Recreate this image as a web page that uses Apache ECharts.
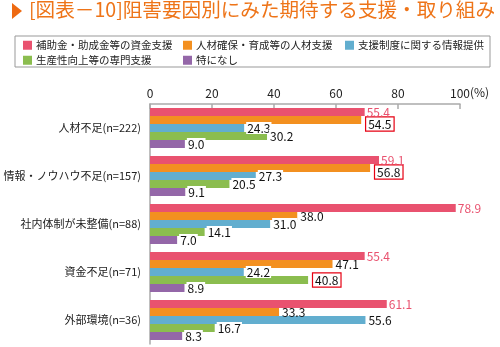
<!DOCTYPE html>
<html>
<head>
<meta charset="utf-8">
<script src="https://cdn.jsdelivr.net/npm/echarts@6/dist/echarts.min.js"></script>
<style>
  html, body { margin: 0; padding: 0; background: #fff; }
  #chart { width: 500px; height: 347px; }
</style>
</head>
<body>
<div id="chart"></div>
<script>
// Categories (obstacle type with sample size)
var categories = ['人材不足(n=222)', '情報・ノウハウ不足(n=157)', '社内体制が未整備(n=88)', '資金不足(n=71)', '外部環境(n=36)'];

// Series names
var seriesNames = ['補助金・助成金等の資金支援', '人材確保・育成等の人材支援', '支援制度に関する情報提供', '生産性向上等の専門支援', '特になし'];

// Series values (%)
var subsidy  = [55.4, 59.1, 78.9, 55.4, 61.1];
var talent   = [54.5, 56.8, 38.0, 47.1, 33.3];
var info     = [24.3, 27.3, 31.0, 24.2, 55.6];
var expert   = [30.2, 20.5, 14.1, 40.8, 16.7];
var none     = [9.0, 9.1, 7.0, 8.9, 8.3];

// Axis tick labels
var tickValues = [0, 20, 40, 60, 80, 100];

// Highlighted values: [series index, category index]
var highlighted = [[1, 0], [1, 1], [3, 3]];

var colors = ['#E9526F', '#F39020', '#62AECF', '#8BBD4F', '#9467A8'];
var seriesData = [subsidy, talent, info, expert, none];
var FONT = '"Noto Sans CJK JP", "Noto Sans", sans-serif';

function isHighlighted(si, ci) {
  return highlighted.some(function (h) { return h[0] === si && h[1] === ci; });
}

var series = seriesData.map(function (vals, si) {
  return {
    name: seriesNames[si],
    type: 'bar',
    xAxisIndex: 1,
    yAxisIndex: 0,
    barWidth: 8,
    barGap: '0%',
    itemStyle: { color: colors[si] },
    data: vals.map(function (v, ci) {
      var item = { value: v };
      if (isHighlighted(si, ci)) {
        item.label = {
          borderColor: '#E60012',
          borderWidth: 1.2,
          padding: [1, 2, 0, 2],
          backgroundColor: '#fff',
          // boxed orange values sit a little lower, clear of the value above
          offset: si === 1 ? [3, 4] : [3, 0]
        };
      }
      return item;
    }),
    label: {
      show: true,
      position: 'right',
      distance: 2,
      fontFamily: FONT,
      fontSize: 12,
      color: si === 0 ? colors[0] : '#111',
      backgroundColor: si <= 1 ? 'transparent' : '#fff',
      padding: si === 0 ? 0 : [0, 1, 0, 1],
      formatter: function (p) { return p.value.toFixed(1); }
    },
    z: si === 0 ? 5 : 2
  };
});

// One legend per item so that entries line up in columns
var legendPos = [[23, 40], [183, 40], [345, 40], [23, 55], [183, 55]];
var legends = seriesNames.map(function (n, i) {
  return {
    data: [n],
    left: legendPos[i][0],
    top: legendPos[i][1],
    itemWidth: 9,
    itemHeight: 9,
    itemGap: 0,
    padding: 0,
    selectedMode: false,
    icon: 'rect',
    textStyle: { fontFamily: FONT, fontSize: 10.5, color: '#222', padding: [0, 0, 0, -1] }
  };
});

var chart = echarts.init(document.getElementById('chart'), null, { renderer: 'canvas' });
chart.setOption({
  animation: false,
  backgroundColor: '#fff',
  color: colors,
  legend: legends,
  grid: { left: 150, top: 104, width: 310, height: 240, containLabel: false },
  xAxis: [
    {
      type: 'value',
      position: 'top',
      min: 0,
      max: 100,
      interval: 20,
      axisLine: { show: true, lineStyle: { color: '#aaa', width: 1.5 } },
      axisTick: { show: true, inside: true, length: 5, lineStyle: { color: '#aaa', width: 1.5 } },
      axisLabel: {
        margin: 5,
        fontFamily: FONT,
        fontSize: 12,
        color: '#222',
        formatter: function (v) { return tickValues.indexOf(v) >= 0 ? String(v) : ''; }
      },
      splitLine: { show: false }
    },
    {
      type: 'value',
      position: 'top',
      min: 0,
      max: 80,
      show: false
    }
  ],
  yAxis: {
    type: 'category',
    inverse: true,
    data: categories,
    axisLine: { show: true, lineStyle: { color: '#aaa', width: 1.5 } },
    axisTick: { show: false },
    axisLabel: { margin: 9, fontFamily: FONT, fontSize: 11, color: '#222' }
  },
  series: series,
  graphic: [
    {
      type: 'polygon',
      shape: { points: [[12, 3], [22, 11], [12, 19]] },
      style: { fill: '#EE6A12' }
    },
    {
      type: 'text',
      left: 29,
      top: 0,
      style: {
        text: '[図表－10]阻害要因別にみた期待する支援・取り組み',
        fontFamily: FONT,
        fontSize: 19.6,
        fill: '#EE7418'
      }
    },
    {
      type: 'rect',
      shape: { x: 15, y: 36, width: 475, height: 31 },
      style: { fill: 'none', stroke: '#999', lineWidth: 1 },
      z: -1
    },
    {
      type: 'text',
      left: 470,
      top: 86,
      style: { text: '(%)', fontFamily: FONT, fontSize: 12, fill: '#222' }
    }
  ]
});
</script>
</body>
</html>
